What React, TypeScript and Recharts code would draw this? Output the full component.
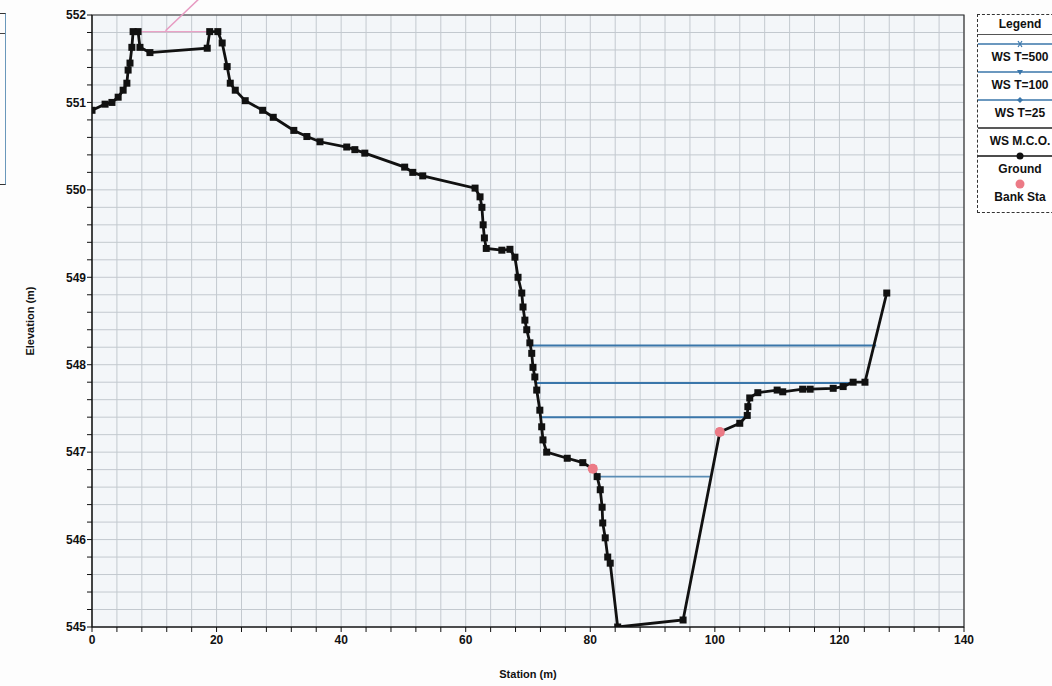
import React from "react";
import {
  ComposedChart,
  Line,
  XAxis,
  YAxis,
  CartesianGrid,
  ReferenceArea,
  ReferenceLine,
} from "recharts";

// station (m) / elevation (m)
const ground = [
  { x: 0, y: 550.91 }, { x: 2.1, y: 550.98 }, { x: 3.2, y: 551.0 }, { x: 4.2, y: 551.06 },
  { x: 5.0, y: 551.14 }, { x: 5.6, y: 551.22 }, { x: 5.8, y: 551.37 }, { x: 6.1, y: 551.45 },
  { x: 6.4, y: 551.63 }, { x: 6.6, y: 551.81 }, { x: 7.4, y: 551.81 }, { x: 7.7, y: 551.63 },
  { x: 9.3, y: 551.57 }, { x: 18.5, y: 551.62 }, { x: 18.9, y: 551.81 }, { x: 20.2, y: 551.81 },
  { x: 20.9, y: 551.68 }, { x: 21.7, y: 551.41 }, { x: 22.2, y: 551.22 }, { x: 23.0, y: 551.14 },
  { x: 24.6, y: 551.02 }, { x: 27.4, y: 550.91 }, { x: 29.1, y: 550.83 }, { x: 32.4, y: 550.68 },
  { x: 34.5, y: 550.61 }, { x: 36.6, y: 550.55 }, { x: 40.9, y: 550.49 }, { x: 42.2, y: 550.46 },
  { x: 43.8, y: 550.42 }, { x: 50.2, y: 550.26 }, { x: 51.5, y: 550.2 }, { x: 53.1, y: 550.16 },
  { x: 61.5, y: 550.02 }, { x: 62.3, y: 549.92 }, { x: 62.6, y: 549.8 }, { x: 62.8, y: 549.6 },
  { x: 63.0, y: 549.45 }, { x: 63.3, y: 549.33 }, { x: 65.8, y: 549.31 }, { x: 67.1, y: 549.32 },
  { x: 67.9, y: 549.23 }, { x: 68.4, y: 549.0 }, { x: 69.0, y: 548.82 }, { x: 69.2, y: 548.66 },
  { x: 69.5, y: 548.51 }, { x: 69.8, y: 548.4 }, { x: 70.3, y: 548.25 }, { x: 70.6, y: 548.13 },
  { x: 70.8, y: 547.97 }, { x: 71.1, y: 547.86 }, { x: 71.4, y: 547.71 }, { x: 71.9, y: 547.48 },
  { x: 72.2, y: 547.29 }, { x: 72.4, y: 547.14 }, { x: 73.0, y: 547.0 }, { x: 76.3, y: 546.93 },
  { x: 78.8, y: 546.88 }, { x: 80.4, y: 546.81 }, { x: 81.1, y: 546.72 }, { x: 81.6, y: 546.57 },
  { x: 81.9, y: 546.37 }, { x: 82.0, y: 546.19 }, { x: 82.4, y: 546.02 }, { x: 82.8, y: 545.8 },
  { x: 83.2, y: 545.73 }, { x: 84.4, y: 545.0 }, { x: 94.9, y: 545.08 }, { x: 100.8, y: 547.23 },
  { x: 104.0, y: 547.33 }, { x: 105.2, y: 547.42 }, { x: 105.3, y: 547.52 }, { x: 105.6, y: 547.62 },
  { x: 106.9, y: 547.68 }, { x: 110.0, y: 547.71 }, { x: 110.9, y: 547.69 }, { x: 114.1, y: 547.72 },
  { x: 115.3, y: 547.72 }, { x: 119.0, y: 547.73 }, { x: 120.6, y: 547.75 }, { x: 122.2, y: 547.8 },
  { x: 124.1, y: 547.8 }, { x: 127.6, y: 548.82 },
];

const wsT500 = [{ x: 70.3, y: 548.22 }, { x: 125.9, y: 548.22 }];
const wsT100 = [{ x: 71.3, y: 547.79 }, { x: 122.2, y: 547.79 }];
const wsT25 = [{ x: 71.9, y: 547.4 }, { x: 105.2, y: 547.4 }];
const wsMco = [{ x: 81.1, y: 546.72 }, { x: 99.2, y: 546.72 }];
const bankSta = [{ x: 80.4, y: 546.81 }, { x: 100.8, y: 547.23 }];
const ineffective = [{ x: 7.4, y: 551.81 }, { x: 18.9, y: 551.81 }];

const xLabels = [0, 20, 40, 60, 80, 100, 120, 140];
const yLabels = [545, 546, 547, 548, 549, 550, 551, 552];
// minor grid / tick positions
const xTicks = [
  0, 4, 8, 12, 16, 20, 24, 28, 32, 36, 40, 44, 48, 52, 56, 60, 64, 68,
  72, 76, 80, 84, 88, 92, 96, 100, 104, 108, 112, 116, 120, 124, 128, 132, 136, 140,
];
const yTicks = [
  545, 545.2, 545.4, 545.6, 545.8, 546, 546.2, 546.4, 546.6, 546.8, 547, 547.2,
  547.4, 547.6, 547.8, 548, 548.2, 548.4, 548.6, 548.8, 549, 549.2, 549.4, 549.6,
  549.8, 550, 550.2, 550.4, 550.6, 550.8, 551, 551.2, 551.4, 551.6, 551.8, 552,
];

const FONT = "'Liberation Sans', Arial, sans-serif";
const WS_BLUE = "#3a76aa";
const tickStyle = { fontFamily: FONT, fontSize: 12, fontWeight: "bold", fill: "#111" };

const SquareDot = (props: any) => {
  const { cx, cy, index } = props;
  if (cx == null || cy == null) return <g key={index} />;
  return <rect key={index} x={cx - 3.5} y={cy - 3.5} width={7} height={7} fill="#111" />;
};

function LegendBox() {
  const row = (label: string, symbol: React.ReactNode) => (
    <div style={{ textAlign: "center", height: 28 }}>
      <svg width={84} height={10} style={{ display: "block" }}>{symbol}</svg>
      <div style={{ lineHeight: "16px" }}>{label}</div>
    </div>
  );
  const line = (color: string) => <line x1={0} y1={5} x2={84} y2={5} stroke={color} strokeWidth={1.5} />;
  return (
    <div
      style={{
        position: "absolute", left: 977, top: 14, width: 90, height: 197,
        border: "1px dashed #333", background: "#fff", fontFamily: FONT,
        fontSize: 12, fontWeight: "bold", color: "#111", overflow: "hidden",
      }}
    >
      <div style={{ height: 19, lineHeight: "19px", textAlign: "center", width: 84, borderBottom: "1px solid #555" }}>
        Legend
      </div>
      <div style={{ paddingTop: 4, width: 84 }}>
        {row("WS T=500", <g>{line(WS_BLUE)}<path d="M40 2 L44 8 M44 2 L40 8" stroke={WS_BLUE} strokeWidth={1.2} /></g>)}
        {row("WS T=100", <g>{line(WS_BLUE)}<path d="M39 3 L45 3 L42 8 Z" fill={WS_BLUE} /></g>)}
        {row("WS T=25", <g>{line(WS_BLUE)}<path d="M42 2 L45 5 L42 8 L39 5 Z" fill={WS_BLUE} /></g>)}
        {row("WS M.C.O.", line("#222"))}
        {row("Ground", <g>{line("#111")}<circle cx={42} cy={5} r={3.5} fill="#111" /></g>)}
        {row("Bank Sta", <circle cx={42} cy={5} r={4.5} fill="#ec7a86" />)}
      </div>
    </div>
  );
}

export default function App() {
  return (
    <div style={{ position: "absolute", left: 0, top: 0, width: 1052, height: 686, background: "#fdfdfd", overflow: "hidden" }}>
      <div
        style={{
          position: "absolute", left: -2, top: 13, width: 7, height: 170,
          borderTop: "1px solid #333", borderBottom: "1px solid #333", borderRight: "1px solid #6a98bb",
        }}
      >
        <div style={{ marginTop: 19, borderTop: "1px solid #444" }} />
      </div>
      <ComposedChart width={1052} height={686} margin={{ top: 15, right: 88, bottom: 0, left: 0 }}>
        <XAxis
          type="number" dataKey="x" domain={[0, 140]} ticks={xTicks} allowDataOverflow
          height={59} tickSize={5} tickMargin={3} stroke="#111" tick={tickStyle} interval={0}
          tickFormatter={(v: number) => (xLabels.includes(v) ? String(v) : "")}
          label={{ value: "Station (m)", position: "insideBottom", offset: 8, style: { fontFamily: FONT, fontSize: 11, fontWeight: "bold", fill: "#111" } }}
        />
        <YAxis
          type="number" domain={[545, 552]} ticks={yTicks} allowDataOverflow
          width={92} tickSize={5} tickMargin={1} stroke="#111" tick={tickStyle} interval={0}
          tickFormatter={(v: number) => (yLabels.includes(v) ? String(v) : "")}
          label={{ value: "Elevation (m)", angle: -90, position: "insideLeft", offset: 30, style: { fontFamily: FONT, fontSize: 11, fontWeight: "bold", fill: "#111", textAnchor: "middle" } }}
        />
        <CartesianGrid stroke="#c3c9cf" fill="#f3f6f9" />
        <ReferenceArea x1={0} x2={140} y1={545} y2={552} fill="none" stroke="#333" strokeWidth={1.2} />

        <Line data={ineffective} dataKey="y" stroke="#eaa2c6" strokeWidth={1.2} dot={false} isAnimationActive={false} />
        <ReferenceLine
          segment={[{ x: 11.8, y: 551.82 }, { x: 17.4, y: 552.2 }]}
          ifOverflow="visible" stroke="#e79ac2" strokeWidth={1.5}
        />
        <Line data={wsT500} dataKey="y" stroke={WS_BLUE} strokeWidth={2} dot={false} isAnimationActive={false} />
        <Line data={wsT100} dataKey="y" stroke={WS_BLUE} strokeWidth={2} dot={false} isAnimationActive={false} />
        <Line data={wsT25} dataKey="y" stroke={WS_BLUE} strokeWidth={2} dot={false} isAnimationActive={false} />
        <Line data={wsMco} dataKey="y" stroke="#5b8db5" strokeWidth={1.6} dot={false} isAnimationActive={false} />
        <Line data={ground} dataKey="y" stroke="#111" strokeWidth={2.8} dot={SquareDot} isAnimationActive={false} />
        <Line
          data={bankSta} dataKey="y" stroke="none"
          dot={{ r: 5, fill: "#ec7a86", stroke: "none" }} isAnimationActive={false}
        />
      </ComposedChart>
      <LegendBox />
    </div>
  );
}
